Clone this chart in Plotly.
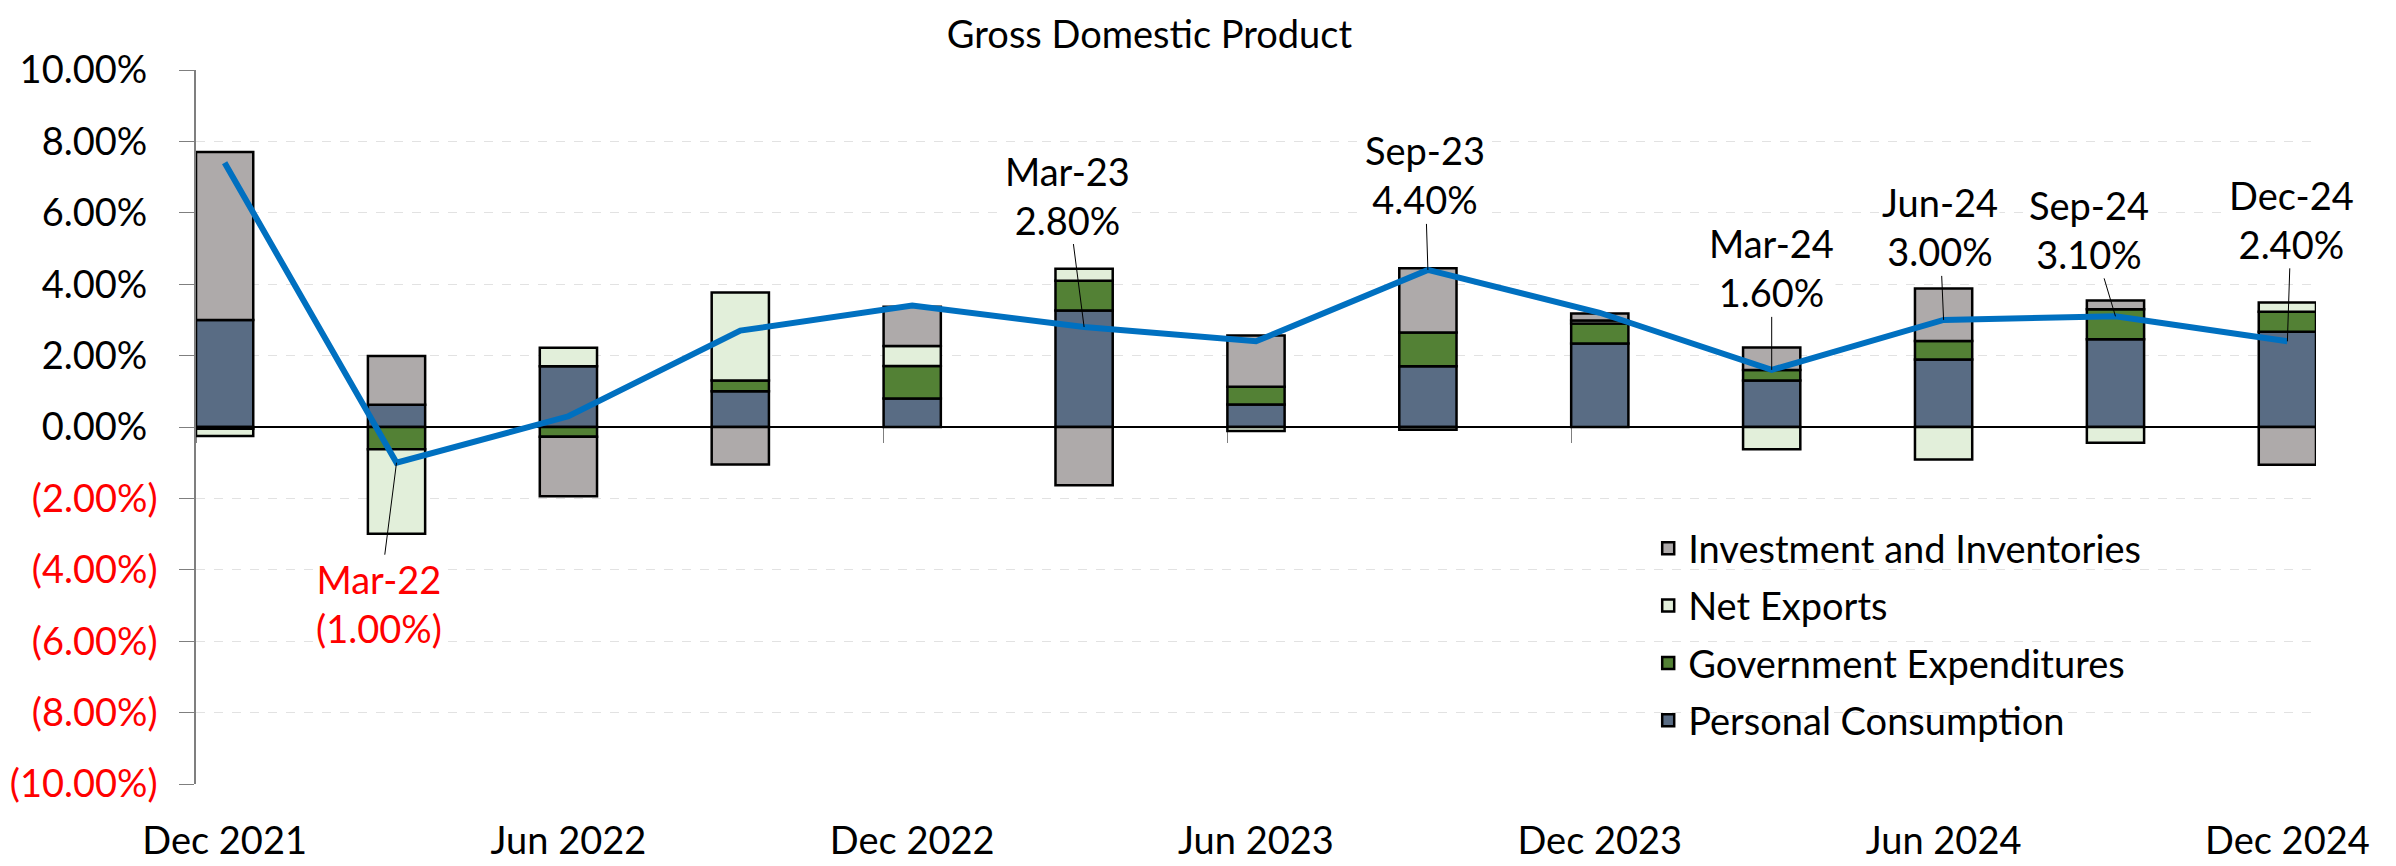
import numpy as np
import plotly.graph_objects as go

# quarterly contributions to real GDP growth (percentage points)
quarters = ['Dec 2021', 'Mar 2022', 'Jun 2022', 'Sep 2022', 'Dec 2022', 'Mar 2023', 'Jun 2023',
            'Sep 2023', 'Dec 2023', 'Mar 2024', 'Jun 2024', 'Sep 2024', 'Dec 2024']
consumption = [3.00, 0.62, 1.70, 1.00, 0.80, 3.26, 0.63, 1.70, 2.34, 1.30, 1.89, 2.46, 2.67]
government = [-0.05, -0.62, -0.27, 0.30, 0.91, 0.84, 0.50, 0.95, 0.56, 0.30, 0.52, 0.84, 0.56]
net_exports = [-0.20, -2.37, 0.52, 2.47, 0.56, 0.33, -0.11, -0.08, 0.08, -0.62, -0.91, -0.44, 0.26]
investment = [4.70, 1.37, -1.67, -1.05, 1.10, -1.63, 1.43, 1.80, 0.20, 0.63, 1.47, 0.24, -1.06]
gdp = [7.4, -1.0, 0.3, 2.7, 3.4, 2.8, 2.4, 4.4, 3.2, 1.6, 3.0, 3.1, 2.4]

# which quarters get a callout, and where the label sits (pixel offset from point)
callouts = {'Mar 2022': (-18, 141), 'Mar 2023': (-17, -132), 'Sep 2023': (-3, -95),
            'Mar 2024': (0, -102), 'Jun 2024': (-4, -93), 'Sep 2024': (-26, -87),
            'Dec 2024': (4, -122)}

y_ticks = list(range(-10, 11, 2))

FONT = 'Lato'
x = np.arange(len(quarters))
bar_w = 0.333
x_range = [-bar_w / 2, len(quarters) - 1 + bar_w / 2]

# (name, values, colour, legend rank)
series = [
    ('Personal Consumption', consumption, '#596C84', 4),
    ('Government Expenditures', government, '#538135', 3),
    ('Net Exports', net_exports, '#E2EFDA', 2),
    ('Investment and Inventories', investment, '#AEAAAA', 1),
]

fig = go.Figure()
for name, vals, color, rank in series:
    fig.add_trace(go.Bar(
        x=x, y=vals, name=name, width=bar_w,
        marker=dict(color=color, line=dict(color='black', width=2.5)),
        legendgroup=name, legendrank=rank,
    ))

fig.add_trace(go.Scatter(
    x=x, y=gdp, mode='lines', xaxis='x2', showlegend=False,
    line=dict(color='#0070C0', width=6),
))


def fmt(v):
    if v < 0:
        return f'({abs(v):.2f}%)'
    return f'{v:.2f}%'


tick_text = []
for v in y_ticks:
    if v < 0:
        tick_text.append(f"<span style='color:#FF0000'>{fmt(v)}</span>")
    else:
        tick_text.append(fmt(v) + '\u2008\u200a')

for q, (ax, ay) in callouts.items():
    i = quarters.index(q)
    v = gdp[i]
    mon, yr = q.split()
    col = '#FF0000' if v < 0 else 'black'
    fig.add_annotation(
        x=x[i], y=v, xref='x', yref='y', ax=ax, ay=ay,
        text=f'{mon}-{yr[2:]}<br>{fmt(v)}',
        showarrow=True, arrowhead=0, arrowwidth=1, arrowcolor='black', standoff=0,
        bgcolor='white', font=dict(family=FONT, size=38, color=col),
    )

# white panel behind the legend (hides the grid there)
fig.add_shape(type='rect', xref='paper', yref='y', x0=0.581, x1=1.0, y0=-9.6, y1=-2.6,
              fillcolor='white', line=dict(width=0), layer='between')

even = x[::2]
# page body has an 8px margin, so the figure is 8px smaller than the window
fig.update_layout(
    width=2388, height=858,
    margin=dict(l=188, r=80, t=62, b=82, autoexpand=False),
    paper_bgcolor='white', plot_bgcolor='white',
    font=dict(family=FONT, size=38, color='black'),
    barmode='relative',
    title=dict(text='Gross Domestic Product', x=0.478, xanchor='center', y=0.969,
               yanchor='middle', font=dict(family=FONT, size=38, color='black')),
    xaxis=dict(range=x_range, tickvals=even, ticktext=[quarters[i] for i in even],
               showgrid=False, zeroline=False, showline=False, ticks='',
               ticklabelstandoff=31, automargin=False),
    xaxis2=dict(range=x_range, overlaying='x', anchor='free', position=0.5,
                tickvals=even - bar_w / 2, showticklabels=False, ticks='outside',
                ticklen=15, tickcolor='#7F7F7F', showgrid=False, zeroline=False,
                showline=False, layer='below traces'),
    yaxis=dict(range=[-10, 10], tickvals=y_ticks, ticktext=tick_text,
               showgrid=True, gridcolor='#E2E2E2', griddash='dash', gridwidth=1,
               zeroline=True, zerolinecolor='black', zerolinewidth=1.5,
               showline=True, linecolor='#7F7F7F', linewidth=1.5,
               ticks='outside', ticklen=15, tickcolor='#7F7F7F',
               ticklabelstandoff=14, automargin=False),
    legend=dict(x=0.685, y=0.374, xanchor='left', yanchor='top',
                traceorder='grouped', tracegroupgap=5,
                bgcolor='rgba(0,0,0,0)', font=dict(family=FONT, size=38)),
    showlegend=True,
)

fig.write_html('out.html')
